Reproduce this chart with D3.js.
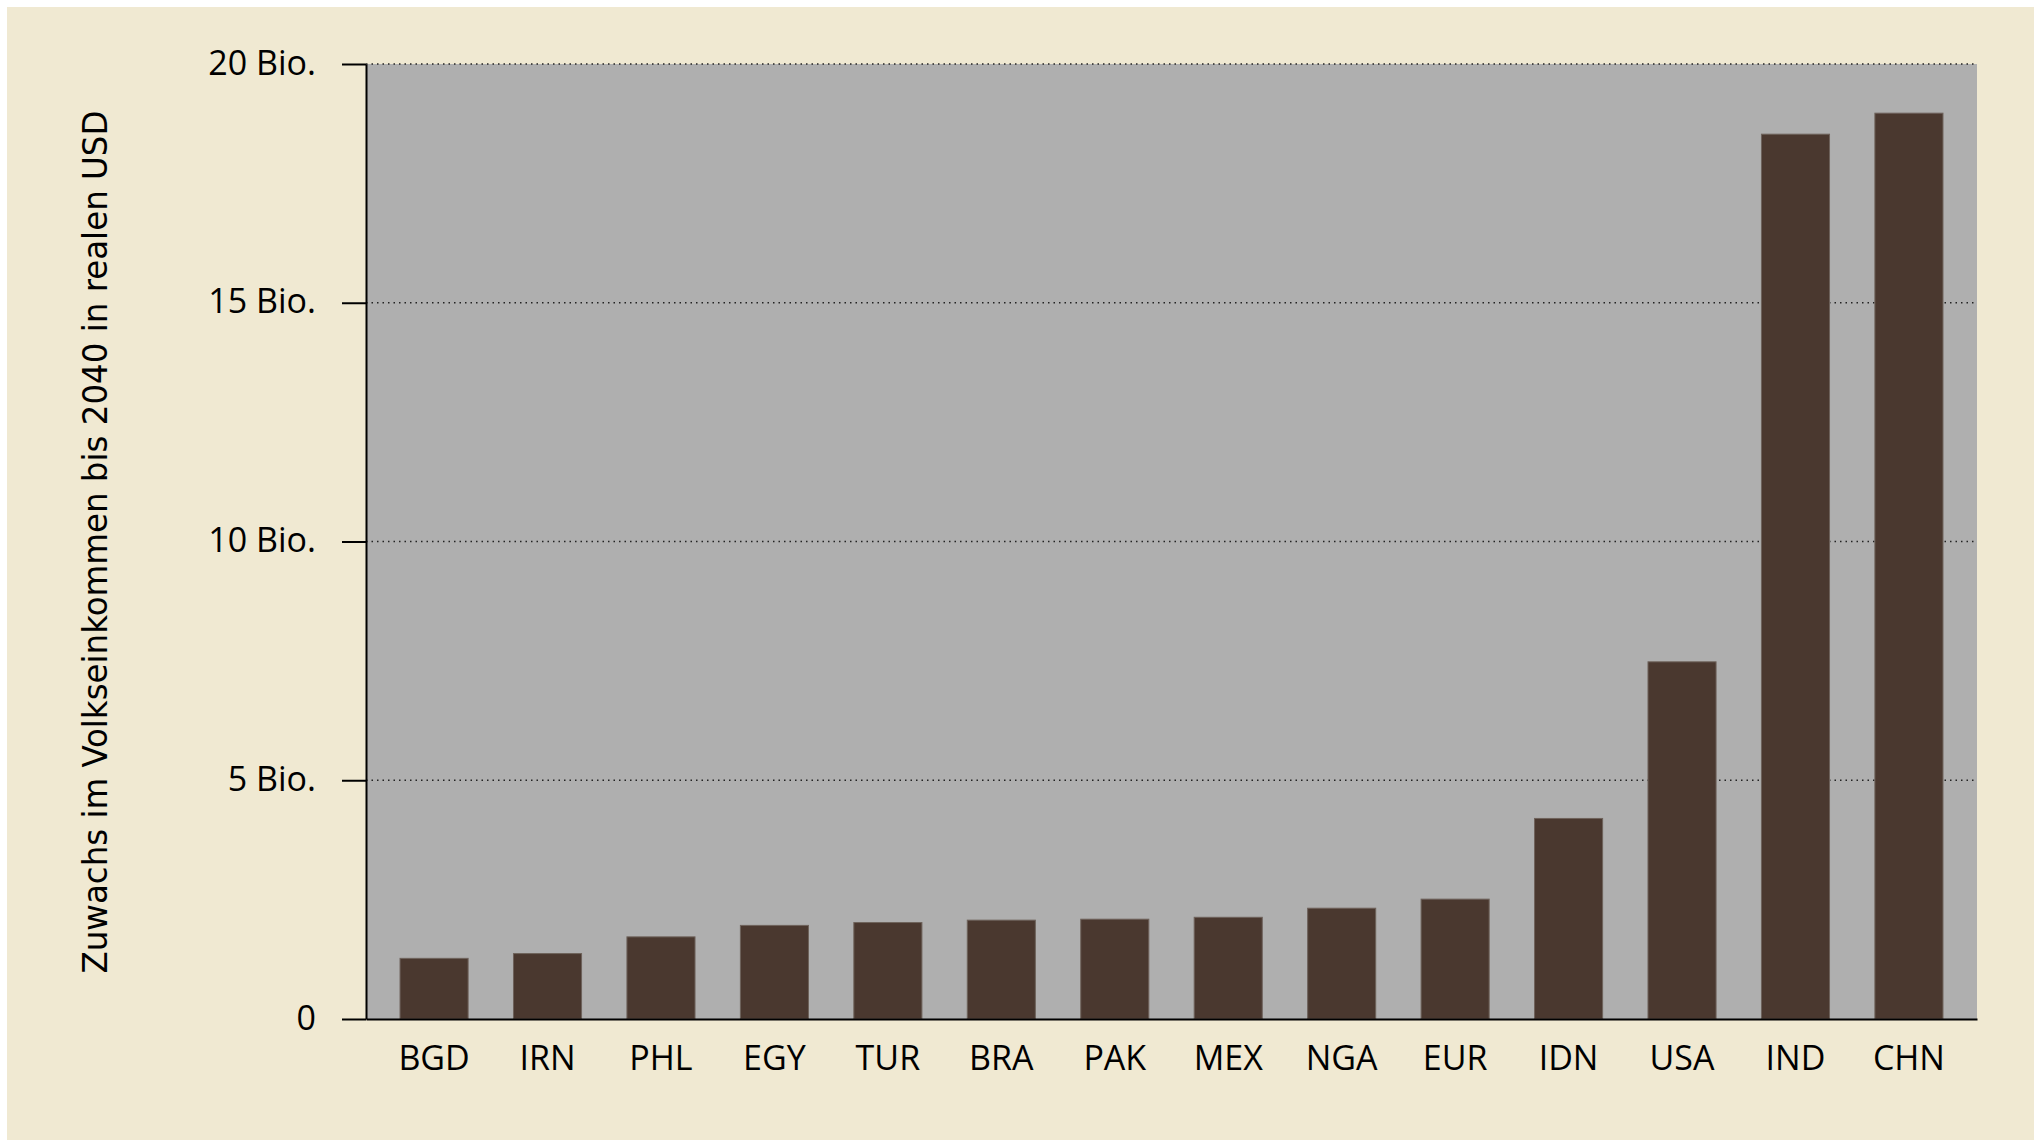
<!DOCTYPE html>
<meta charset="utf-8">

<!-- Load d3.js -->
<script src="https://d3js.org/d3.v7.min.js"></script>

<style>
  body {margin: 0; background: #ffffff;}
  text {font-family: "Open Sans", sans-serif;}
</style>

<div id="my_dataviz"></div>

<script>

// data
var countries = ["BGD", "IRN", "PHL", "EGY", "TUR", "BRA", "PAK", "MEX", "NGA", "EUR", "IDN", "USA", "IND", "CHN"];
var growth = [1.27, 1.37, 1.72, 1.96, 2.02, 2.07, 2.09, 2.13, 2.32, 2.51, 4.20, 7.48, 18.53, 18.97];
var yTicks = [0, 5, 10, 15, 20];
var yTickLabels = ["0", "5 Bio.", "10 Bio.", "15 Bio.", "20 Bio."];
var yTitle = "Zuwachs im Volkseinkommen bis 2040 in realen USD";

// dimensions
var W = 2042, H = 1140;
var margin = {top: 64, right: 65, bottom: 121, left: 366},
    width = W - margin.left - margin.right,
    height = H - margin.top - margin.bottom;

var root = d3.select("#my_dataviz")
  .append("svg")
    .attr("width", W)
    .attr("height", H);

// cream background with thin white border on top/left/right
root.append("rect")
  .attr("x", 7).attr("y", 7)
  .attr("width", W - 15).attr("height", H - 7)
  .attr("fill", "#f0e9d2");

var svg = root.append("g")
  .attr("transform", "translate(" + margin.left + "," + margin.top + ")");

// plot background
svg.append("rect")
  .attr("width", width)
  .attr("height", height)
  .attr("fill", "#afafaf");

// scales
var x = d3.scaleBand()
  .domain(countries)
  .range([0, width])
  .paddingInner(0.4)
  .paddingOuter(0.3);

var y = d3.scaleLinear()
  .domain([0, 20])
  .range([height, 0]);

// dotted grid lines
svg.selectAll("gridline")
  .data(yTicks.filter(function(d) { return d > 0; }))
  .enter()
  .append("line")
    .attr("x1", 0)
    .attr("x2", width)
    .attr("y1", function(d) { return y(d); })
    .attr("y2", function(d) { return y(d); })
    .attr("stroke", "#222")
    .attr("stroke-width", 1.5)
    .attr("stroke-dasharray", "1.5,4");

// bars
svg.selectAll("bar")
  .data(countries)
  .enter()
  .append("rect")
    .attr("x", function(d) { return x(d); })
    .attr("y", function(d, i) { return y(growth[i]); })
    .attr("width", x.bandwidth())
    .attr("height", function(d, i) { return height - y(growth[i]); })
    .attr("fill", "#4a382f")
    .attr("stroke", "#6e625b")
    .attr("stroke-width", 1);

// Y axis
var yAxis = svg.append("g")
  .call(d3.axisLeft(y)
    .tickValues(yTicks)
    .tickFormat(function(d, i) { return yTickLabels[i]; })
    .tickSize(24)
    .tickPadding(26)
    .tickSizeOuter(0));
yAxis.select(".domain").attr("stroke", "#000").attr("stroke-width", 2);
yAxis.selectAll(".tick line").attr("stroke", "#000").attr("stroke-width", 2);
yAxis.selectAll("text")
  .attr("fill", "#000")
  .style("font-size", "34px")
  .style("font-family", "'Open Sans', sans-serif")
  .attr("dy", "0.3em");

// X axis
var xAxis = svg.append("g")
  .attr("transform", "translate(0," + height + ")")
  .call(d3.axisBottom(x).tickSize(0).tickPadding(20).tickSizeOuter(0));
xAxis.select(".domain").attr("stroke", "#000").attr("stroke-width", 2);
xAxis.selectAll("text")
  .attr("fill", "#000")
  .style("font-size", "34px")
  .style("font-family", "'Open Sans', sans-serif")
  .attr("dy", "0.92em");

// Y axis title
root.append("text")
  .attr("transform", "translate(107," + 542 + ") rotate(-90)")
  .attr("text-anchor", "middle")
  .attr("textLength", 863)
  .attr("lengthAdjust", "spacingAndGlyphs")
  .style("font-family", "'Liberation Sans Narrow', 'DejaVu Sans Condensed', sans-serif")
  .style("font-size", "34px")
  .attr("fill", "#000")
  .text(yTitle);

</script>
